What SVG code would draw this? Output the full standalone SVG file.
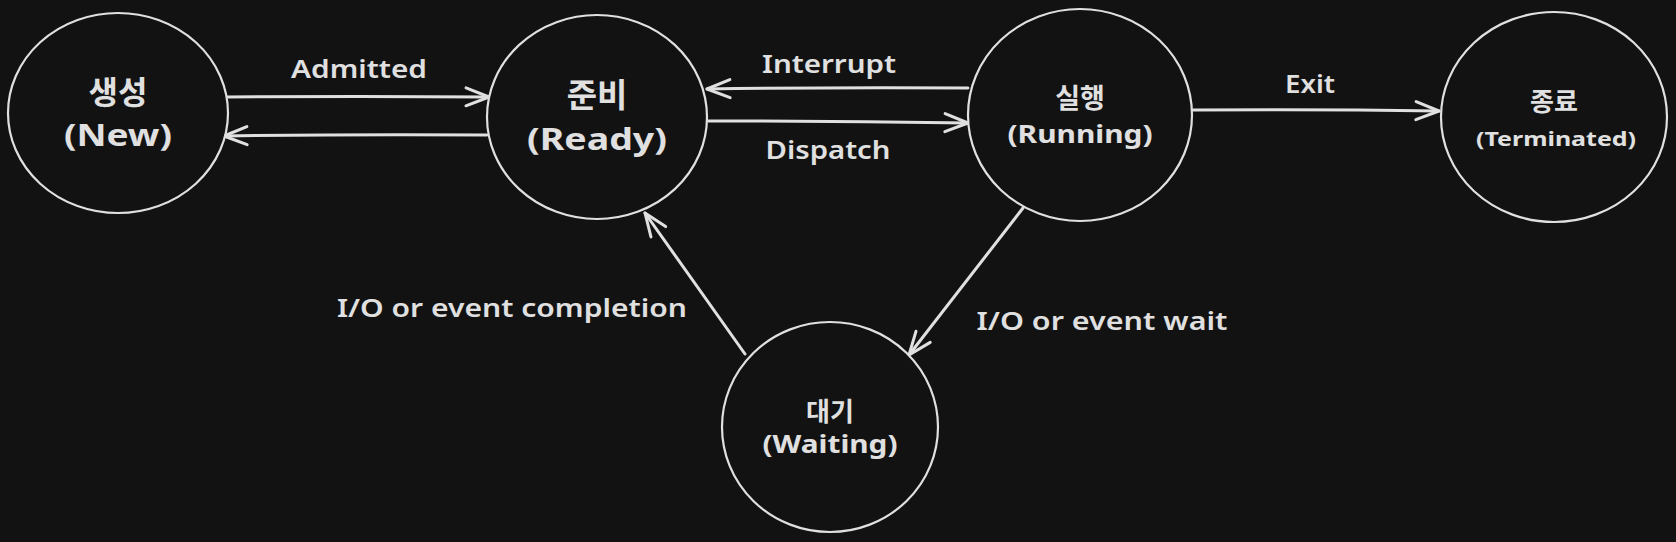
<svg xmlns="http://www.w3.org/2000/svg" width="1676" height="542" viewBox="0 0 1676 542">
<defs>
<style>
.bg{fill:#121212}
.node ellipse{fill:#121212;stroke:#e0e0e0;stroke-width:2.2}
.edge{fill:none;stroke:#e0e0e0;stroke-width:3;stroke-linecap:round}
text{fill:#e0e0e0;font-family:"Noto Sans","Noto Sans CJK KR",sans-serif;font-weight:700;text-anchor:middle}
.lbl{font-size:25px;font-weight:600}
.ko{font-family:"Noto Sans CJK KR",sans-serif}
</style>
<marker id="arr" viewBox="-28 -12 32 24" markerWidth="32" markerHeight="24" refX="0" refY="0" orient="auto" markerUnits="userSpaceOnUse">
<path d="M-23 -9 L0 0 L-23 9" fill="none" stroke="#e0e0e0" stroke-width="3" stroke-linecap="round" stroke-linejoin="round"/>
</marker>
</defs>
<rect class="bg" x="0" y="0" width="1676" height="542"/>
<g id="connectors">
<path class="edge" d="M227 97 Q360 96 489 97" marker-end="url(#arr)"/>
<path class="edge" d="M487 135 Q355 134 224 136" marker-end="url(#arr)"/>
<path class="edge" d="M968 88 Q840 87 707 89" marker-end="url(#arr)"/>
<path class="edge" d="M708 121 Q840 121 968 123" marker-end="url(#arr)"/>
<path class="edge" d="M1193 110 Q1320 109 1439 111" marker-end="url(#arr)"/>
<path class="edge" d="M745 354 L645 213" marker-end="url(#arr)"/>
<path class="edge" d="M1023 208 L909 355" marker-end="url(#arr)"/>
<text class="lbl" x="359" y="78" textLength="136" lengthAdjust="spacingAndGlyphs">Admitted</text>
<text class="lbl" x="829" y="73" textLength="134" lengthAdjust="spacingAndGlyphs">Interrupt</text>
<text class="lbl" x="828" y="159" textLength="125" lengthAdjust="spacingAndGlyphs">Dispatch</text>
<text class="lbl" x="1310" y="93" textLength="50" lengthAdjust="spacingAndGlyphs">Exit</text>
<text class="lbl" x="512" y="317" textLength="350" lengthAdjust="spacingAndGlyphs">I/O or event completion</text>
<text class="lbl" x="1102" y="330" textLength="251" lengthAdjust="spacingAndGlyphs">I/O or event wait</text>
</g>
<g id="node-new" class="node">
<ellipse cx="118" cy="113" rx="110" ry="100"/>
<text class="ko" x="118" y="104" font-size="32">생성</text>
<text x="118" y="146" font-size="30" textLength="108" lengthAdjust="spacingAndGlyphs">(New)</text>
</g>
<g id="node-ready" class="node">
<ellipse cx="597" cy="117" rx="110" ry="102"/>
<text class="ko" x="597" y="107" font-size="33">준비</text>
<text x="597" y="150" font-size="30" textLength="140" lengthAdjust="spacingAndGlyphs">(Ready)</text>
</g>
<g id="node-running" class="node">
<ellipse cx="1080" cy="115" rx="112" ry="106"/>
<text class="ko" x="1080" y="108" font-size="27">실행</text>
<text x="1080" y="143" font-size="25" textLength="145" lengthAdjust="spacingAndGlyphs">(Running)</text>
</g>
<g id="node-terminated" class="node">
<ellipse cx="1554" cy="117" rx="113" ry="105"/>
<text class="ko" x="1554" y="111" font-size="26">종료</text>
<text x="1556" y="146" font-size="20" textLength="160" lengthAdjust="spacingAndGlyphs">(Terminated)</text>
</g>
<g id="node-waiting" class="node">
<ellipse cx="830" cy="427" rx="108" ry="105"/>
<text class="ko" x="830" y="421" font-size="26">대기</text>
<text x="830" y="453" font-size="25" textLength="135" lengthAdjust="spacingAndGlyphs">(Waiting)</text>
</g>
</svg>
